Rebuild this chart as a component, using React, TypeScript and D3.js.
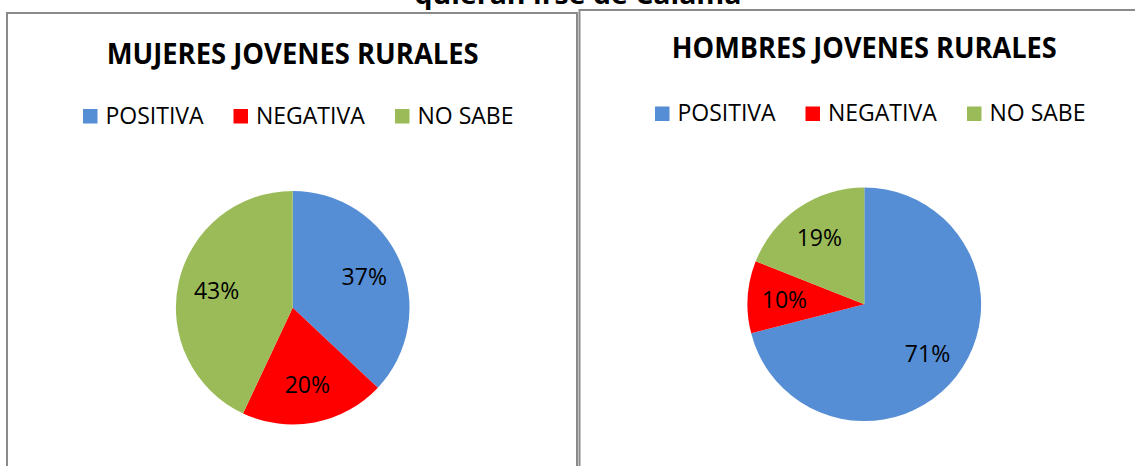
import React from "react";
import * as d3 from "d3";

const categories = ["POSITIVA", "NEGATIVA", "NO SABE"];
const mujeresValues = [37, 20, 43];
const hombresValues = [71, 10, 19];
const chartTitles = ["MUJERES JOVENES RURALES", "HOMBRES JOVENES RURALES"];
const pageTitle = "quieran irse de Calama";
const sliceColors = ["#558ED5", "#FF0000", "#9BBB59"];

const W = 1135;
const H = 466;

type Panel = {
  title: string;
  values: number[];
  boxX: number;
  boxW: number;
  boxY: number;
  cx: number;
  cy: number;
  titleY: number;
  titleLen: number;
  legendX: number;
  legendY: number;
  labelR: number;
};

const panels: Panel[] = [
  {
    title: chartTitles[0],
    values: mujeresValues,
    boxX: 7,
    boxW: 570,
    boxY: 13,
    cx: 292.7,
    cy: 307.7,
    titleY: 63.5,
    titleLen: 372,
    legendX: 83,
    legendY: 123.5,
    labelR: 78,
  },
  {
    title: chartTitles[1],
    values: hombresValues,
    boxX: 579.5,
    boxW: 600,
    boxY: 10,
    cx: 864.3,
    cy: 304.3,
    titleY: 58.2,
    titleLen: 385,
    legendX: 655,
    legendY: 121,
    labelR: 80,
  },
];

const legendOffsets = [0, 150.5, 312];
const R = 116.8;

const color = d3.scaleOrdinal<string, string>().domain(categories).range(sliceColors);

function PiePanel({ p }: { p: Panel }) {
  const pie = d3
    .pie<number>()
    .sort(null)
    .value((d) => d);
  const arcs = pie(p.values);
  const arc = d3.arc<d3.PieArcDatum<number>>().innerRadius(0).outerRadius(R);
  const labelArc = d3
    .arc<d3.PieArcDatum<number>>()
    .innerRadius(p.labelR)
    .outerRadius(p.labelR);
  const total = d3.sum(p.values);
  const fmt = d3.format(".0%");
  return (
    <g>
      <rect
        x={p.boxX}
        y={p.boxY}
        width={p.boxW}
        height={H}
        fill="#fff"
        stroke="#8a8a8a"
        strokeWidth={2}
      />
      <text
        x={p.cx}
        y={p.titleY}
        textAnchor="middle"
        fontFamily="'Open Sans', sans-serif"
        fontWeight={700}
        fontSize={28.5}
        textLength={p.titleLen}
        lengthAdjust="spacingAndGlyphs"
        fill="#000"
      >
        {p.title}
      </text>
      {categories.map((c, i) => (
        <g key={c} transform={`translate(${p.legendX + legendOffsets[i]},${p.legendY})`}>
          <rect x={0} y={-14.5} width={14.5} height={14.5} fill={color(c)} />
          <text
            x={22.5}
            y={0}
            fontFamily="'Open Sans', sans-serif"
            fontSize={23}
            fill="#000"
          >
            {c}
          </text>
        </g>
      ))}
      <g transform={`translate(${p.cx},${p.cy})`}>
        {arcs.map((a, i) => (
          <path key={i} d={arc(a) || ""} fill={color(categories[i])} />
        ))}
        {arcs.map((a, i) => {
          const [x, y] = labelArc.centroid(a);
          return (
            <text
              key={"l" + i}
              x={x}
              y={y}
              dy="0.36em"
              textAnchor="middle"
              fontFamily="'Open Sans', sans-serif"
              fontSize={23}
              fill="#000"
            >
              {fmt(a.data / total)}
            </text>
          );
        })}
      </g>
    </g>
  );
}

export default function App() {
  return (
    <svg
      width={W}
      height={H}
      viewBox={`0 0 ${W} ${H}`}
      style={{ position: "absolute", left: 0, top: 0, display: "block", background: "#fff" }}
    >
      <rect x={0} y={0} width={W} height={H} fill="#fff" />
      <text
        x={578}
        y={4}
        textAnchor="middle"
        fontFamily="'Open Sans', sans-serif"
        fontWeight={700}
        fontSize={26}
        textLength={327}
        lengthAdjust="spacingAndGlyphs"
        fill="#000"
      >
        {pageTitle}
      </text>
      {panels.map((p) => (
        <PiePanel key={p.title} p={p} />
      ))}
    </svg>
  );
}
